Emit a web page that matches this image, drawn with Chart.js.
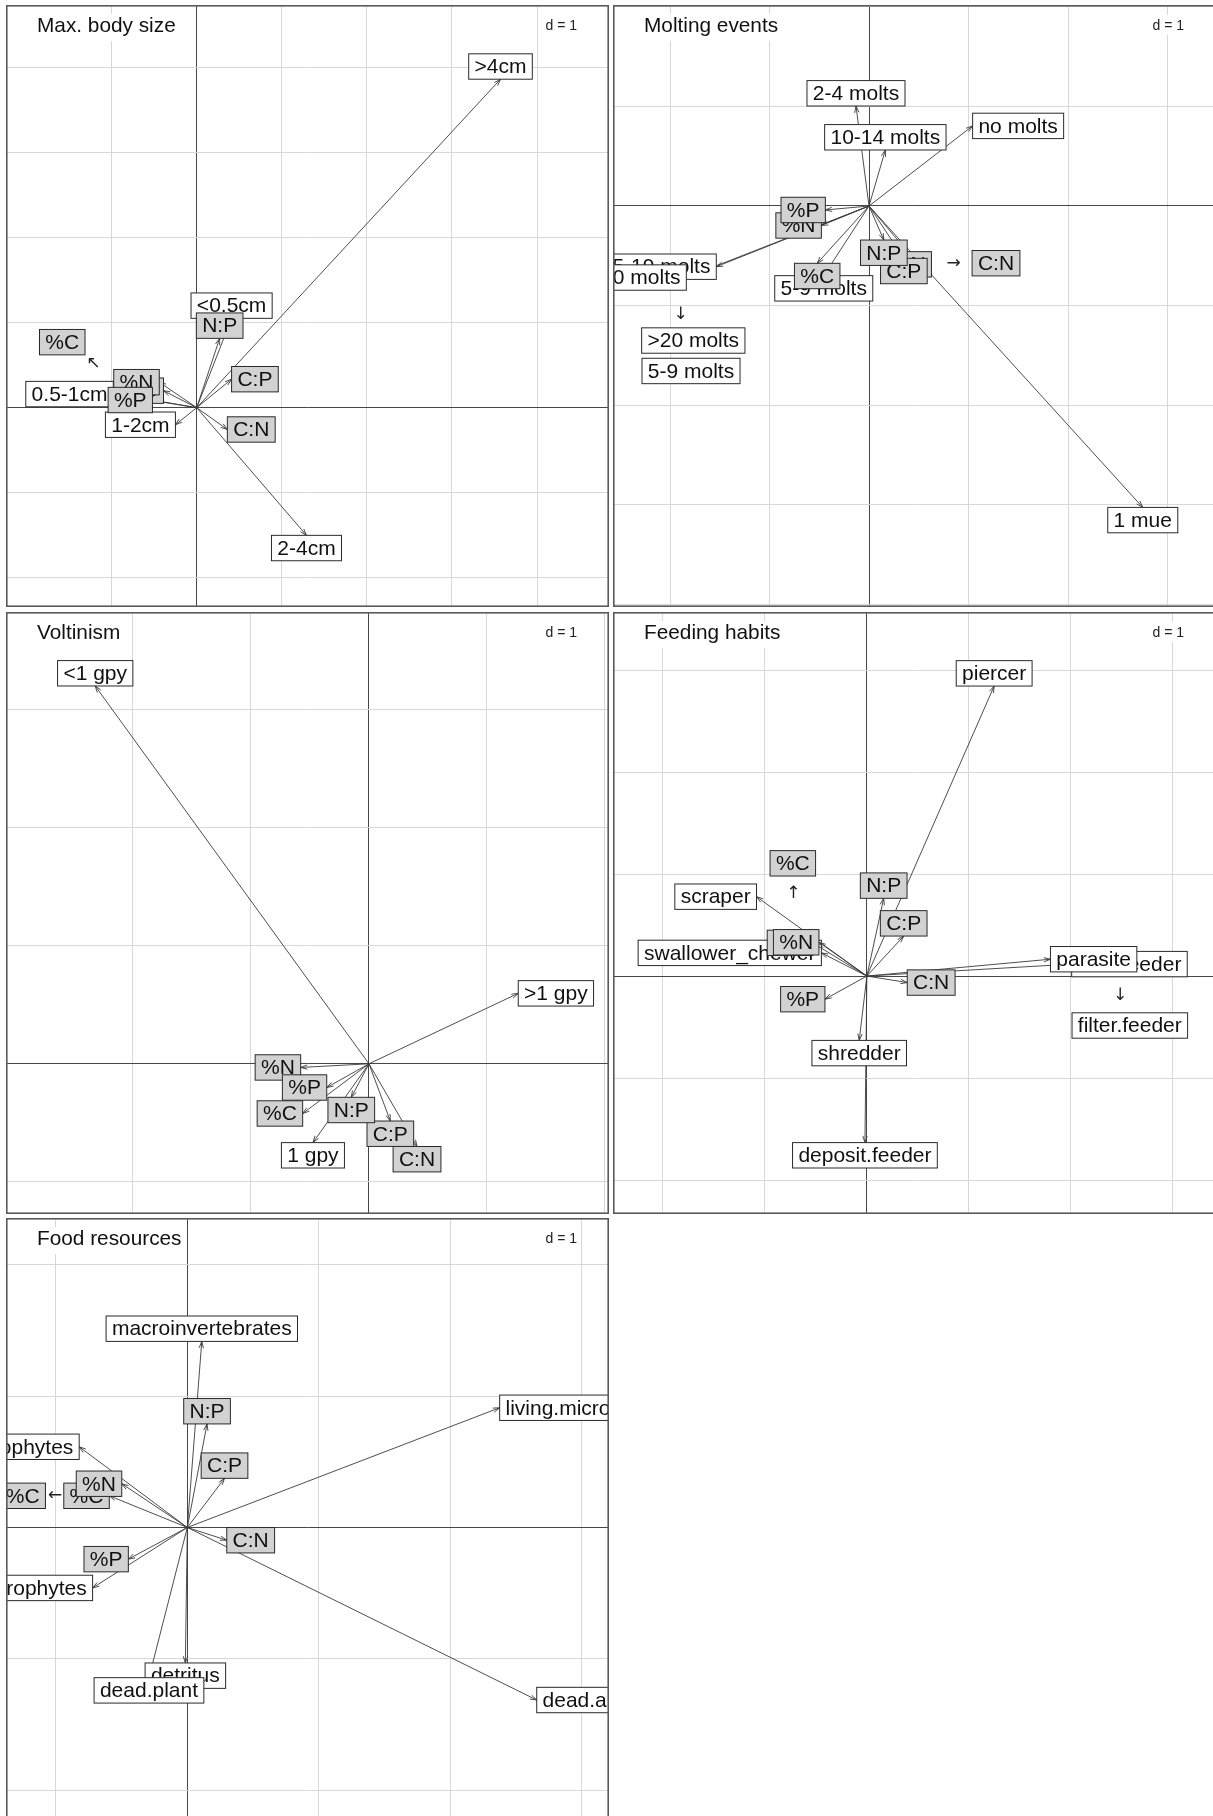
<!DOCTYPE html>
<html>
<head>
<meta charset="utf-8">
<script src="https://cdn.jsdelivr.net/npm/chart.js@4.4.1/dist/chart.umd.min.js"></script>
<style>
  html, body { margin: 0; padding: 0; background: #ffffff; overflow: hidden; }
  body { width: 1213px; height: 1816px; position: relative; }
  .panel { position: absolute; width: 603px; height: 602px; }
  .panel canvas { display: block; }
</style>
</head>
<body>
<div class="panel" style="left:6px;top:5px"><canvas id="c1" width="603" height="602"></canvas></div>
<div class="panel" style="left:613px;top:5px"><canvas id="c2" width="603" height="602"></canvas></div>
<div class="panel" style="left:6px;top:612px"><canvas id="c3" width="603" height="602"></canvas></div>
<div class="panel" style="left:613px;top:612px"><canvas id="c4" width="603" height="602"></canvas></div>
<div class="panel" style="left:6px;top:1218px"><canvas id="c5" width="603" height="602"></canvas></div>
<script>
// ---------------- DATA ----------------
const panelTitles = ["Max. body size", "Molting events", "Voltinism", "Feeding habits", "Food resources"];
const gridLabel = "d = 1";
const nutrientLabels = ["%C", "%N", "%P", "C:N", "C:P", "N:P"];

// Max. body size
const bodyLabels = ["<0.5cm", "0.5-1cm", "1-2cm", "2-4cm", ">4cm"];
const bodyX = [0.41, -0.98, -0.25, 1.29, 3.57];
const bodyY = [1.05, 0.16, -0.20, -1.50, 3.86];
const bodyNutX = [-0.39, -0.44, -0.52, 0.36, 0.41, 0.27];
const bodyNutY = [0.20, 0.30, 0.09, -0.256, 0.335, 0.815];
const bodyCallouts = ["%C"];
const bodyCalloutKind = ["nutrient"];
const bodyCalloutX = [-1.58];
const bodyCalloutY = [0.77];
const bodyPointers = ["\u2196"];
const bodyPointerX = [-1.215];
const bodyPointerY = [0.522];

// Molting events
const moltLabels = ["no molts", "1 mue", "2-4 molts", "5-9 molts", "10-14 molts", "15-19 molts", ">20 molts"];
const moltX = [1.041, 2.751, -0.131, -0.455, 0.164, -1.535, -1.836];
const moltY = [0.805, -3.029, 1.005, -0.700, 0.563, -0.610, -0.719];
const moltNutX = [-0.521, -0.479, -0.439, 0.387, 0.350, 0.149];
const moltNutY = [-0.576, -0.196, -0.040, -0.459, -0.526, -0.342];
const moltCallouts = ["C:N", ">20 molts", "5-9 molts"];
const moltCalloutKind = ["nutrient", "trait", "trait"];
const moltCalloutX = [1.276, -1.766, -1.789];
const moltCalloutY = [-0.575, -1.352, -1.658];
const moltPointers = ["\u2192", "\u2193"];
const moltPointerX = [0.851, -1.894];
const moltPointerY = [-0.576, -1.092];

// Voltinism
const voltLabels = ["<1 gpy", "1 gpy", ">1 gpy"];
const voltX = [-2.320, -0.475, 1.265];
const voltY = [3.202, -0.668, 0.597];
const voltNutX = [-0.562, -0.579, -0.358, 0.407, 0.181, -0.150];
const voltNutY = [-0.421, -0.031, -0.201, -0.701, -0.485, -0.284];
const voltCallouts = [];
const voltCalloutKind = [];
const voltCalloutX = [];
const voltCalloutY = [];
const voltPointers = [];
const voltPointerX = [];
const voltPointerY = [];

// Feeding habits
const feedLabels = ["piercer", "scraper", "swallower_chewer", "shredder", "deposit.feeder", "filter.feeder", "parasite"];
const feedX = [1.248, -1.082, -0.446, -0.075, -0.019, 2.008, 1.800];
const feedY = [2.843, 0.778, 0.227, -0.631, -1.633, 0.117, 0.165];
const feedNutX = [-0.531, -0.470, -0.411, 0.396, 0.361, 0.165];
const feedNutY = [0.325, 0.331, -0.227, -0.064, 0.392, 0.762];
const feedCallouts = ["%C", "filter.feeder"];
const feedCalloutKind = ["nutrient", "trait"];
const feedCalloutX = [-0.726, 2.578];
const feedCalloutY = [1.105, -0.485];
const feedPointers = ["\u2191", "\u2193"];
const feedPointerX = [-0.72, 2.484];
const feedPointerY = [0.81, -0.191];

// Food resources
const foodLabels = ["macroinvertebrates", "living.microinvertebrates", "living.microphytes", "living.macrophytes", "detritus", "dead.plant", "dead.animal"];
const foodX = [0.11, 2.377, -0.823, -0.721, -0.015, -0.292, 2.659];
const foodY = [1.416, 0.911, 0.614, -0.460, -1.031, -1.143, -1.313];
const foodNutX = [-0.594, -0.499, -0.449, 0.300, 0.283, 0.150];
const foodNutY = [0.241, 0.333, -0.241, -0.097, 0.374, 0.788];
const foodCallouts = ["%C"];
const foodCalloutKind = ["nutrient"];
const foodCalloutX = [-1.253];
const foodCalloutY = [0.241];
const foodPointers = ["\u2190"];
const foodPointerX = [-1.007];
const foodPointerY = [0.240];

// ---------------- PANEL SETUP ----------------
const panels = [
  { id: "c1", title: panelTitles[0], xr: [-2.241, 4.845], yr: [-2.342, 4.732], gx: [-1, 4], gy: [-2, 4],
    tl: bodyLabels, tx: bodyX, ty: bodyY, nx: bodyNutX, ny: bodyNutY,
    cl: bodyCallouts, ck: bodyCalloutKind, cx: bodyCalloutX, cy: bodyCalloutY,
    pl: bodyPointers, px: bodyPointerX, py: bodyPointerY },
  { id: "c2", title: panelTitles[1], xr: [-2.573, 3.487], yr: [-4.030, 2.020], gx: [-2, 3], gy: [-4, 2],
    tl: moltLabels, tx: moltX, ty: moltY, nx: moltNutX, ny: moltNutY,
    cl: moltCallouts, ck: moltCalloutKind, cx: moltCalloutX, cy: moltCalloutY,
    pl: moltPointers, px: moltPointerX, py: moltPointerY },
  { id: "c3", title: panelTitles[2], xr: [-3.076, 2.034], yr: [-1.273, 3.829], gx: [-2, 2], gy: [-1, 3],
    tl: voltLabels, tx: voltX, ty: voltY, nx: voltNutX, ny: voltNutY,
    cl: voltCallouts, ck: voltCalloutKind, cx: voltCalloutX, cy: voltCalloutY,
    pl: voltPointers, px: voltPointerX, py: voltPointerY },
  { id: "c4", title: panelTitles[3], xr: [-2.489, 3.423], yr: [-2.333, 3.569], gx: [-2, 3], gy: [-2, 3],
    tl: feedLabels, tx: feedX, ty: feedY, nx: feedNutX, ny: feedNutY,
    cl: feedCallouts, ck: feedCalloutKind, cx: feedCalloutX, cy: feedCalloutY,
    pl: feedPointers, px: feedPointerX, py: feedPointerY },
  { id: "c5", title: panelTitles[4], xr: [-1.380, 3.209], yr: [-2.226, 2.355], gx: [-1, 3], gy: [-2, 2],
    tl: foodLabels, tx: foodX, ty: foodY, nx: foodNutX, ny: foodNutY,
    cl: foodCallouts, ck: foodCalloutKind, cx: foodCalloutX, cy: foodCalloutY,
    pl: foodPointers, px: foodPointerX, py: foodPointerY }
];

const LABEL_FONT = "21px 'Liberation Sans', Arial, sans-serif";
const TITLE_FONT = "20.8px 'Liberation Sans', Arial, sans-serif";
const D_FONT = "14px 'Liberation Sans', Arial, sans-serif";
const GLYPH_FONT = "17px 'DejaVu Sans', sans-serif";
const BOX_H = 25.4;
const WHITE_FILL = "#ffffff";
const GREY_FILL = "#d2d2d2";

function drawArrow(ctx, x0, y0, x1, y1) {
  ctx.beginPath();
  ctx.moveTo(x0, y0);
  ctx.lineTo(x1, y1);
  ctx.stroke();
  const a = Math.atan2(y1 - y0, x1 - x0);
  const L = 7, th = Math.PI / 10;
  ctx.beginPath();
  ctx.moveTo(x1 - L * Math.cos(a - th), y1 - L * Math.sin(a - th));
  ctx.lineTo(x1, y1);
  ctx.lineTo(x1 - L * Math.cos(a + th), y1 - L * Math.sin(a + th));
  ctx.stroke();
}

function boxWidth(ctx, text) {
  ctx.font = LABEL_FONT;
  return ctx.measureText(" " + text + " ").width;
}

function drawBox(ctx, text, cx, cy, fill) {
  const w = boxWidth(ctx, text);
  ctx.fillStyle = fill;
  ctx.fillRect(cx - w / 2, cy - BOX_H / 2, w, BOX_H);
  ctx.strokeStyle = "#2a2a2a";
  ctx.lineWidth = 1;
  ctx.strokeRect(cx - w / 2, cy - BOX_H / 2, w, BOX_H);
  ctx.fillStyle = "#111111";
  ctx.font = LABEL_FONT;
  ctx.textAlign = "center";
  ctx.textBaseline = "middle";
  ctx.fillText(text, cx, cy + 1);
}

// ade4-style label placement relative to arrow end
function labelCenter(ctx, text, xv, yv, px, py) {
  const w = boxWidth(ctx, text);
  const yh = BOX_H / 2;
  if (xv > yv && xv > -yv) return [px + w / 2, py];
  if (xv > yv && xv <= -yv) return [px, py + yh];
  if (xv <= yv && xv <= -yv) return [px - w / 2, py];
  return [px, py - yh];
}

const arrowPlugin = {
  id: "arrowPanel",
  afterDatasetsDraw(chart) {
    const P = panels.find(p => p.id === chart.canvas.id);
    const ctx = chart.ctx;
    const xs = chart.scales.x, ys = chart.scales.y;
    const area = chart.chartArea;
    const ox = xs.getPixelForValue(0), oy = ys.getPixelForValue(0);
    ctx.save();
    ctx.beginPath();
    ctx.rect(area.left, area.top, area.right - area.left, area.bottom - area.top);
    ctx.clip();
    ctx.lineCap = "butt";
    // trait arrows
    ctx.strokeStyle = "#3a3a3a";
    ctx.lineWidth = 0.9;
    P.tl.forEach((t, i) => drawArrow(ctx, ox, oy, xs.getPixelForValue(P.tx[i]), ys.getPixelForValue(P.ty[i])));
    // trait labels
    P.tl.forEach((t, i) => {
      const c = labelCenter(ctx, t, P.tx[i], P.ty[i], xs.getPixelForValue(P.tx[i]), ys.getPixelForValue(P.ty[i]));
      drawBox(ctx, t, c[0], c[1], WHITE_FILL);
    });
    // nutrient arrows
    ctx.strokeStyle = "#3a3a3a";
    ctx.lineWidth = 0.9;
    nutrientLabels.forEach((t, i) => drawArrow(ctx, ox, oy, xs.getPixelForValue(P.nx[i]), ys.getPixelForValue(P.ny[i])));
    // nutrient labels
    nutrientLabels.forEach((t, i) => {
      const c = labelCenter(ctx, t, P.nx[i], P.ny[i], xs.getPixelForValue(P.nx[i]), ys.getPixelForValue(P.ny[i]));
      drawBox(ctx, t, c[0], c[1], GREY_FILL);
    });
    // callouts
    P.pl.forEach((g, i) => {
      ctx.font = GLYPH_FONT;
      ctx.fillStyle = "#222222";
      ctx.textAlign = "center";
      ctx.textBaseline = "middle";
      ctx.fillText(g, xs.getPixelForValue(P.px[i]), ys.getPixelForValue(P.py[i]));
    });
    P.cl.forEach((t, i) => {
      drawBox(ctx, t, xs.getPixelForValue(P.cx[i]), ys.getPixelForValue(P.cy[i]), P.ck[i] === "nutrient" ? GREY_FILL : WHITE_FILL);
    });
    // title
    ctx.font = TITLE_FONT;
    const tw = ctx.measureText(P.title).width;
    const tx0 = area.left + 31, tb = area.top + 27;
    ctx.fillStyle = "#ffffff";
    ctx.fillRect(tx0 - 3, area.top + 9, tw + 6, 27);
    ctx.fillStyle = "#111111";
    ctx.textAlign = "left";
    ctx.textBaseline = "alphabetic";
    ctx.fillText(P.title, tx0, tb);
    // d = 1
    ctx.font = D_FONT;
    const dw = ctx.measureText(gridLabel).width;
    const dx1 = area.right - 32;
    ctx.fillStyle = "#ffffff";
    ctx.fillRect(dx1 - dw - 3, area.top + 10, dw + 6, 20);
    ctx.fillStyle = "#222222";
    ctx.textAlign = "right";
    ctx.fillText(gridLabel, dx1, area.top + 25);
    ctx.restore();
    // frame
    ctx.save();
    ctx.strokeStyle = "#5a5a5a";
    ctx.lineWidth = 1.6;
    ctx.strokeRect(area.left + 0.8, area.top + 0.8, area.right - area.left - 1.6, area.bottom - area.top - 1.6);
    ctx.restore();
  }
};

function axisOpts(range, grid) {
  return {
    type: "linear",
    min: range[0],
    max: range[1],
    afterBuildTicks: axis => {
      const t = [];
      for (let v = grid[0]; v <= grid[1]; v++) t.push({ value: v });
      axis.ticks = t;
    },
    ticks: { display: false },
    border: { display: false },
    title: { display: false },
    grid: {
      drawTicks: false,
      lineWidth: 1,
      color: c => (c.tick && c.tick.value === 0) ? "#474747" : "#d8d8d8"
    }
  };
}

panels.forEach(P => {
  const pts = P.tx.map((x, i) => ({ x: x, y: P.ty[i] })).concat(P.nx.map((x, i) => ({ x: x, y: P.ny[i] })));
  new Chart(document.getElementById(P.id), {
    type: "scatter",
    data: { datasets: [{ data: pts, pointRadius: 0, pointHoverRadius: 0, showLine: false }] },
    options: {
      responsive: false,
      animation: false,
      events: [],
      layout: { padding: 0 },
      plugins: { legend: { display: false }, tooltip: { enabled: false }, title: { display: false } },
      scales: { x: axisOpts(P.xr, P.gx), y: axisOpts(P.yr, P.gy) }
    },
    plugins: [arrowPlugin]
  });
});
</script>
</body>
</html>
